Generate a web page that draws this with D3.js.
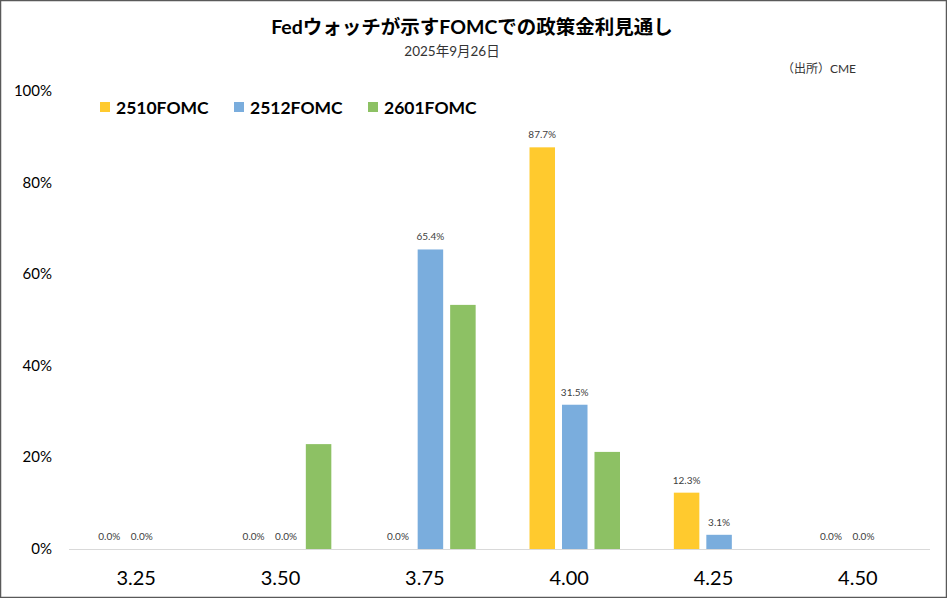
<!DOCTYPE html>
<html>
<head>
<meta charset="utf-8">
<script src="https://cdn.jsdelivr.net/npm/d3@7"></script>
<style>
  body { margin: 0; background: #fff; }
  text { font-family: Lato, "Noto Sans CJK JP", sans-serif; }
</style>
</head>
<body>
<div id="chart"></div>
<script>
// policy rate targets and probability per meeting
const rates = ["3.25", "3.50", "3.75", "4.00", "4.25", "4.50"];
const seriesNames = ["2510FOMC", "2512FOMC", "2601FOMC"];
const fomc2510 = [0, 0, 0, 87.7, 12.3, 0];
const fomc2512 = [0, 0, 65.4, 31.5, 3.1, 0];
const fomc2601 = [0, 22.9, 53.3, 21.2, 0, 0];
const yTicks = [0, 20, 40, 60, 80, 100];

const colors = ["#FFCA2E", "#7AADDD", "#8DC164"];
const labelled = [true, true, false];
const values = [fomc2510, fomc2512, fomc2601];

const w = 947, h = 598;
const svg = d3.select("#chart").append("svg").attr("width", w).attr("height", h);

// frame
svg.append("rect").attr("x", 0.5).attr("y", 0.5).attr("width", w - 1).attr("height", h - 1)
  .attr("fill", "#fff").attr("stroke", "#595959").attr("stroke-width", 1.5);

// titles
svg.append("text").attr("x", 472).attr("y", 34).attr("text-anchor", "middle")
  .attr("font-size", 19.5).attr("font-weight", "bold").attr("fill", "#000")
  .text("Fedウォッチが示すFOMCでの政策金利見通し");
svg.append("text").attr("x", 452).attr("y", 56).attr("text-anchor", "middle")
  .attr("font-size", 13.5).attr("fill", "#333").text("2025年9月26日");
svg.append("text").attr("x", 856).attr("y", 73).attr("text-anchor", "end")
  .attr("font-size", 12).attr("fill", "#333").text("（出所）CME");

// scales
const x = d3.scaleBand().domain(rates).range([64, 930]);
const xInner = d3.scaleBand().domain(seriesNames).range([29, 126.5]).paddingInner(0.215).paddingOuter(0.108);
const y = d3.scaleLinear().domain([0, 100]).range([549, 91]);

// y axis labels
svg.append("g").selectAll("text").data(yTicks).join("text")
  .attr("x", 52).attr("y", (d) => y(d) + 5).attr("text-anchor", "end")
  .attr("font-size", 15).attr("fill", "#000")
  .text((d) => d + "%");

// baseline
svg.append("line").attr("x1", 69).attr("x2", 930).attr("y1", y(0) + 0.5).attr("y2", y(0) + 0.5)
  .attr("stroke", "#D9D9D9").attr("stroke-width", 1);

// x axis labels
const xAxis = d3.axisBottom(x).tickSize(0).tickPadding(22);
const gx = svg.append("g").attr("transform", `translate(0, ${y(0)})`).call(xAxis);
gx.select(".domain").remove();
gx.selectAll("text").attr("font-size", 20).attr("fill", "#000")
  .style("font-family", "Lato, sans-serif");

// bars
seriesNames.forEach((s, si) => {
  const rows = rates.map((r, i) => ({ rate: r, v: values[si][i] }));
  const g = svg.append("g");
  g.selectAll("rect").data(rows.filter((d) => d.v > 0)).join("rect")
    .attr("x", (d) => x(d.rate) + xInner(s))
    .attr("width", xInner.bandwidth())
    .attr("y", (d) => y(d.v))
    .attr("height", (d) => y(0) - y(d.v))
    .attr("fill", colors[si]);
  if (labelled[si]) {
    const lab = rows.filter((d) => !(d.v === 0 && d.rate === "4.00"));
    g.selectAll("text").data(lab).join("text")
      .attr("x", (d) => x(d.rate) + xInner(s) + xInner.bandwidth() / 2)
      .attr("y", (d) => y(d.v) - 9)
      .attr("text-anchor", "middle")
      .attr("font-size", 10).attr("fill", "#404040")
      .text((d) => d.v.toFixed(1) + "%");
  }
});

// legend
const legendX = [100, 234, 368];
const lg = svg.append("g").selectAll("g").data(seriesNames).join("g")
  .attr("transform", (d, i) => `translate(${legendX[i]}, 102)`);
lg.append("rect").attr("width", 10).attr("height", 10).attr("fill", (d, i) => colors[i]);
lg.append("text").attr("x", 16).attr("y", 11.5).attr("font-size", 17.5).attr("font-weight", "bold")
  .attr("fill", "#000").text((d) => d);
</script>
</body>
</html>
